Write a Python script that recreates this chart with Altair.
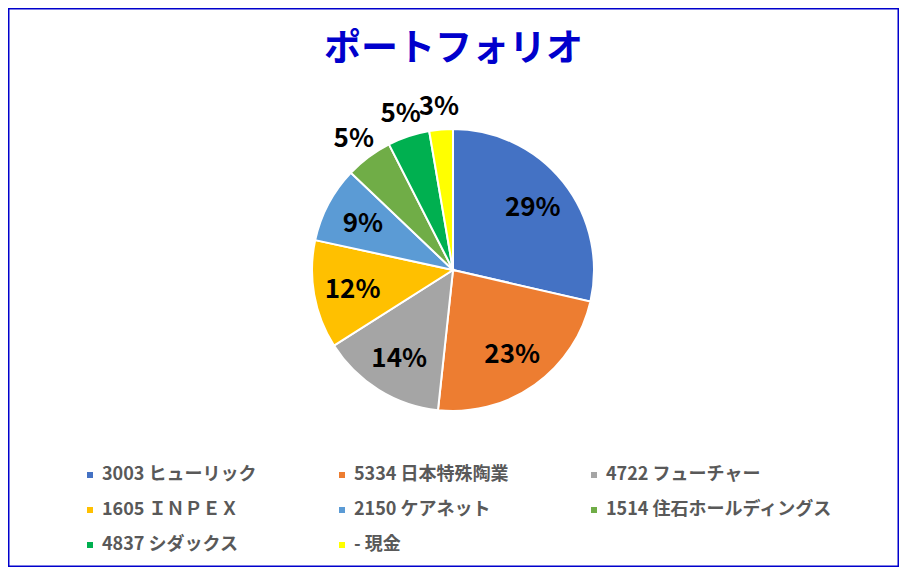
import altair as alt
import pandas as pd

FONT = "Noto Sans CJK JP"

names = ["3003 ヒューリック", "5334 日本特殊陶業", "4722 フューチャー", "1605 ＩＮＰＥＸ",
         "2150 ケアネット", "1514 住石ホールディングス", "4837 シダックス", "- 現金"]
values = [28.6, 23.1, 14.3, 12.4, 8.7, 5.4, 4.8, 2.7]
colors = ["#4472C4", "#ED7D31", "#A5A5A5", "#FFC000",
          "#5B9BD5", "#70AD47", "#00B050", "#FFFF00"]

# the legend fills column by column, so list entries so that rows read 3-3-2
legend_order = [names[i] for i in (0, 3, 6, 1, 4, 7, 2, 5)]

df = pd.DataFrame({"name": names, "value": values, "idx": list(range(len(names)))})

# pie centre sits a bit above the middle of the frame
base = alt.Chart(df).transform_joinaggregate(
    total="sum(value)"
).transform_calculate(
    inner="datum.value >= 8 ? format(datum.value / datum.total, '.0%') : ''",
    outer="datum.value < 8 ? format(datum.value / datum.total, '.0%') : ''",
).encode(
    theta=alt.Theta("value:Q", stack=True),
    order=alt.Order("idx:Q"),
    x=alt.value(445),
    y=alt.value(262),
)

pie = base.mark_arc(outerRadius=141, stroke="white", strokeWidth=2).encode(
    color=alt.Color(
        "name:N",
        scale=alt.Scale(domain=names, range=colors),
        legend=alt.Legend(
            title=None, orient="none", legendX=73, legendY=458,
            values=legend_order,
            columns=3, gridAlign="all", columnPadding=4, rowPadding=17,
            symbolType="square", symbolSize=36, symbolStrokeWidth=0,
            labelFont=FONT, labelFontSize=18, labelFontWeight="bold",
            labelColor="#595959", labelOffset=3, labelLimit=400, padding=0,
        ),
    )
)

inner_text = base.mark_text(
    radius=102, font=FONT, fontSize=26, fontWeight="bold", color="black",
    baseline="middle", dy=2,
).encode(text="inner:N")

outer_text = base.mark_text(
    radius=166, font=FONT, fontSize=26, fontWeight="bold", color="black",
    baseline="middle", dy=2,
).encode(text="outer:N")

chart = alt.layer(pie, inner_text, outer_text).properties(
    width=891,
    height=559,
    padding=0,
    autosize=alt.AutoSizeParams(type="none"),
    title=alt.TitleParams(
        "ポートフォリオ", font=FONT, fontSize=37, fontWeight="bold",
        color="#0000CC", anchor="middle", offset=-61,
    ),
).configure_view(stroke="#0000CC", strokeWidth=3)

chart.save("out.html", embed_options={"renderer": "svg", "actions": False})
